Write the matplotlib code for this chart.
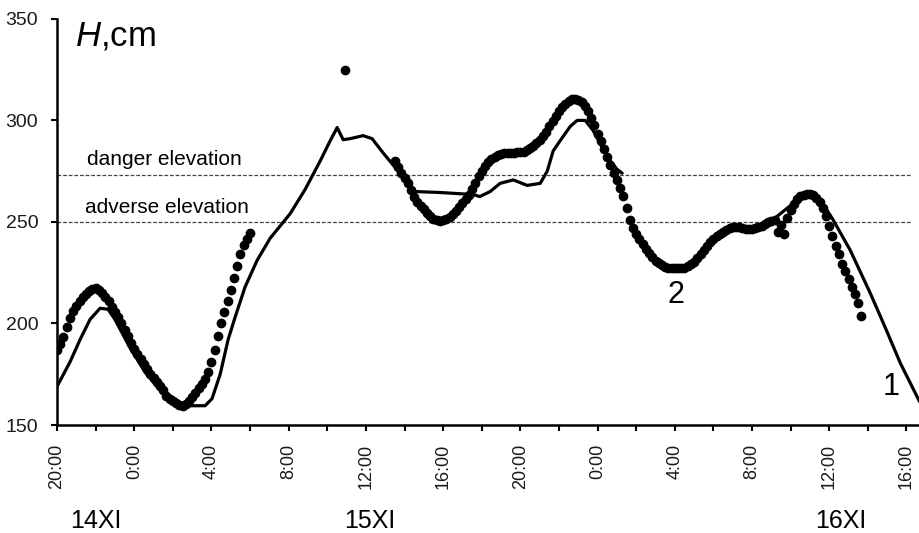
import numpy as np
import matplotlib
matplotlib.use("Agg")
import matplotlib.pyplot as plt
import matplotlib.transforms as mtransforms

plt.rcParams['font.family'] = ['Liberation Sans', 'DejaVu Sans']
plt.rcParams['mathtext.fontset'] = 'custom'
plt.rcParams['mathtext.it'] = 'Liberation Sans:italic'
plt.rcParams['mathtext.rm'] = 'Liberation Sans'

# time axis: hours since 14 XI 20:00
tick_hours = [0, 4, 8, 12, 16, 20, 24, 28, 32, 36, 40, 44]
tick_labels = ["20:00", "0:00", "4:00", "8:00", "12:00", "16:00",
               "20:00", "0:00", "4:00", "8:00", "12:00", "16:00"]
day_labels = ["14XI", "15XI", "16XI"]
day_hours = [2.0, 16.2, 40.6]

danger_level = 273
adverse_level = 250

# curve 1 (solid line), two pieces
calc1_hours = [0.0, 0.67, 1.19, 1.71, 2.23, 2.64, 3.0, 3.78, 4.56, 5.34, 6.11,
               6.89, 7.67, 8.03, 8.45, 8.86, 9.22, 9.74, 10.36, 11.04, 12.07,
               12.85, 13.63, 14.15, 14.51, 14.82, 15.18, 15.85, 16.32, 16.89,
               17.62, 18.03, 18.45, 19.84, 21.55, 21.9, 22.44, 22.95, 23.63,
               24.35, 25.03, 25.39, 25.7, 26.06, 26.58, 26.94, 27.36, 27.77,
               28.5, 29.0, 29.27]
calc1_level = [169, 181, 192, 202, 207.5, 207, 202, 188, 176, 167, 162,
               159.5, 159.5, 163, 175, 192, 203, 218, 231, 242, 254,
               266, 280, 290, 296.5, 290.5, 291, 292.5, 291, 284,
               275.6, 270, 265, 264.5, 263.5, 262.5, 265, 269, 270.7,
               268, 269, 275, 285, 290, 297, 300, 300, 295,
               282, 276, 274]
calc2_hours = [36.68, 37.2, 37.98, 38.5, 38.86, 39.27, 39.8, 40.2, 41.09,
               42.12, 42.9, 43.68, 44.6, 45.0]
calc2_level = [249, 252, 258, 263, 264, 263, 257, 251, 236,
               215, 198, 180.5, 163, 156]

# curve 2 (observed, dots every 10 min)
obs_a_start = 0.0
obs_a = [187, 190, 193.5, 198.5, 202.5, 206, 208.5, 211, 213, 214.5, 216, 217,
         217.5, 216.5, 215, 213, 211, 208, 205.5, 203, 200, 197, 194, 190.5,
         187.5, 185, 182.5, 180, 177.5, 175, 173, 171, 169, 167, 164.5, 163,
         162, 161, 160, 159.5, 160.5, 162, 164, 166, 168, 170, 172.5, 176,
         181, 187, 194, 200, 205.5, 211, 216.5, 222.5, 228.5, 234, 238.5,
         241.5, 244.5]
obs_b_start = 17.5
obs_b = [280, 277, 274, 271.5, 269, 265.5, 262.5, 260, 258, 256.5, 254.5, 253,
         251.5, 251, 250.5, 251, 251.5, 252.5, 254, 255.5, 257.5, 259.5, 261.5,
         263.5, 266, 269, 272.5, 275, 277.5, 279.5, 281, 282, 283, 283.5, 284,
         284, 284, 284, 284.5, 284.5, 284.5, 285.5, 286.5, 287.5, 289, 290.5,
         292.5, 294.5, 297, 299.5, 302, 304.5, 306.5, 308, 309.5, 310.5, 310.5,
         310, 309, 307, 304.5, 301, 297.5, 293.5, 290, 286, 282, 278, 274,
         270.5, 266.5, 263, 257, 251, 247, 244, 241.5, 239, 236.5, 234.5,
         232.5, 231, 230, 229, 228, 227.5, 227.5, 227.5, 227.5, 227.5, 227.5,
         228.5, 229.5, 230.5, 232, 234, 236, 238, 240, 241.5, 243, 244, 245,
         246, 247, 247.5, 247.5, 247.5, 247, 246.5, 246.5, 246.5, 247, 247.5,
         248, 249, 250, 250.5, 251, 245, 248.5, 244, 252, 256, 259, 261.5, 263,
         263.5, 264, 264, 263.5, 262, 260, 257, 253, 248, 243, 238, 234, 229.5,
         226, 222, 218, 214.5, 210, 203.5]
outlier_hour = 14.92
outlier_level = 325

obs_a_hours = obs_a_start + np.arange(len(obs_a)) / 6.0
obs_b_hours = obs_b_start + np.arange(len(obs_b)) / 6.0

fig = plt.figure(figsize=(9.2, 5.33), dpi=100)
ax = fig.add_axes([0.062, 0.2026, 0.938, 0.762])

ax.axhline(danger_level, xmin=0, xmax=0.99, color="#444444", lw=0.9, ls=(0, (3, 1.5)))
ax.axhline(adverse_level, xmin=0, xmax=0.99, color="#444444", lw=0.9, ls=(0, (3, 1.5)))

ax.plot(calc1_hours, calc1_level, color="black", lw=2.3, solid_capstyle="round",
        solid_joinstyle="round")
ax.plot(calc2_hours, calc2_level, color="black", lw=2.3, solid_capstyle="round",
        solid_joinstyle="round")

ax.plot(obs_a_hours, obs_a, "o", color="black", ms=6, mec="black")
ax.plot(obs_b_hours, obs_b, "o", color="black", ms=6, mec="black")
ax.plot([outlier_hour], [outlier_level], "o", color="black", ms=6)

ax.set_xlim(0, 44.7)
ax.set_ylim(150, 350)
ax.set_yticks([150, 200, 250, 300, 350])
ax.set_xticks(tick_hours)
ax.set_xticklabels(tick_labels, rotation=90)
ax.set_xticks(np.arange(2, 45, 4), minor=True)

for side in ["top", "right"]:
    ax.spines[side].set_visible(False)
for side in ["left", "bottom"]:
    ax.spines[side].set_linewidth(1.8)
ax.tick_params(axis="both", which="both", direction="out", length=4.5, width=1.5,
               colors="black", labelcolor="#1a1a1a")
ax.tick_params(axis="y", labelsize=14, pad=9)
ax.tick_params(axis="x", labelsize=13, pad=9)

ax.text(0.93, 337, "$H$,cm", fontsize=25, va="baseline", ha="left")
ax.text(1.55, 278, "danger elevation", fontsize=15, va="baseline", ha="left")
ax.text(1.45, 254.4, "adverse elevation", fontsize=15, va="baseline", ha="left")
ax.text(32.07, 214, "2", fontsize=22, ha="center", va="center")
ax.text(43.2, 168.7, "1", fontsize=22, ha="center", va="center")

trans = mtransforms.blended_transform_factory(ax.transData, ax.transAxes)
for h, lab in zip(day_hours, day_labels):
    ax.text(h, -0.236, lab, transform=trans, fontsize=18, ha="center", va="center")

fig.savefig("out.png", dpi=100)
